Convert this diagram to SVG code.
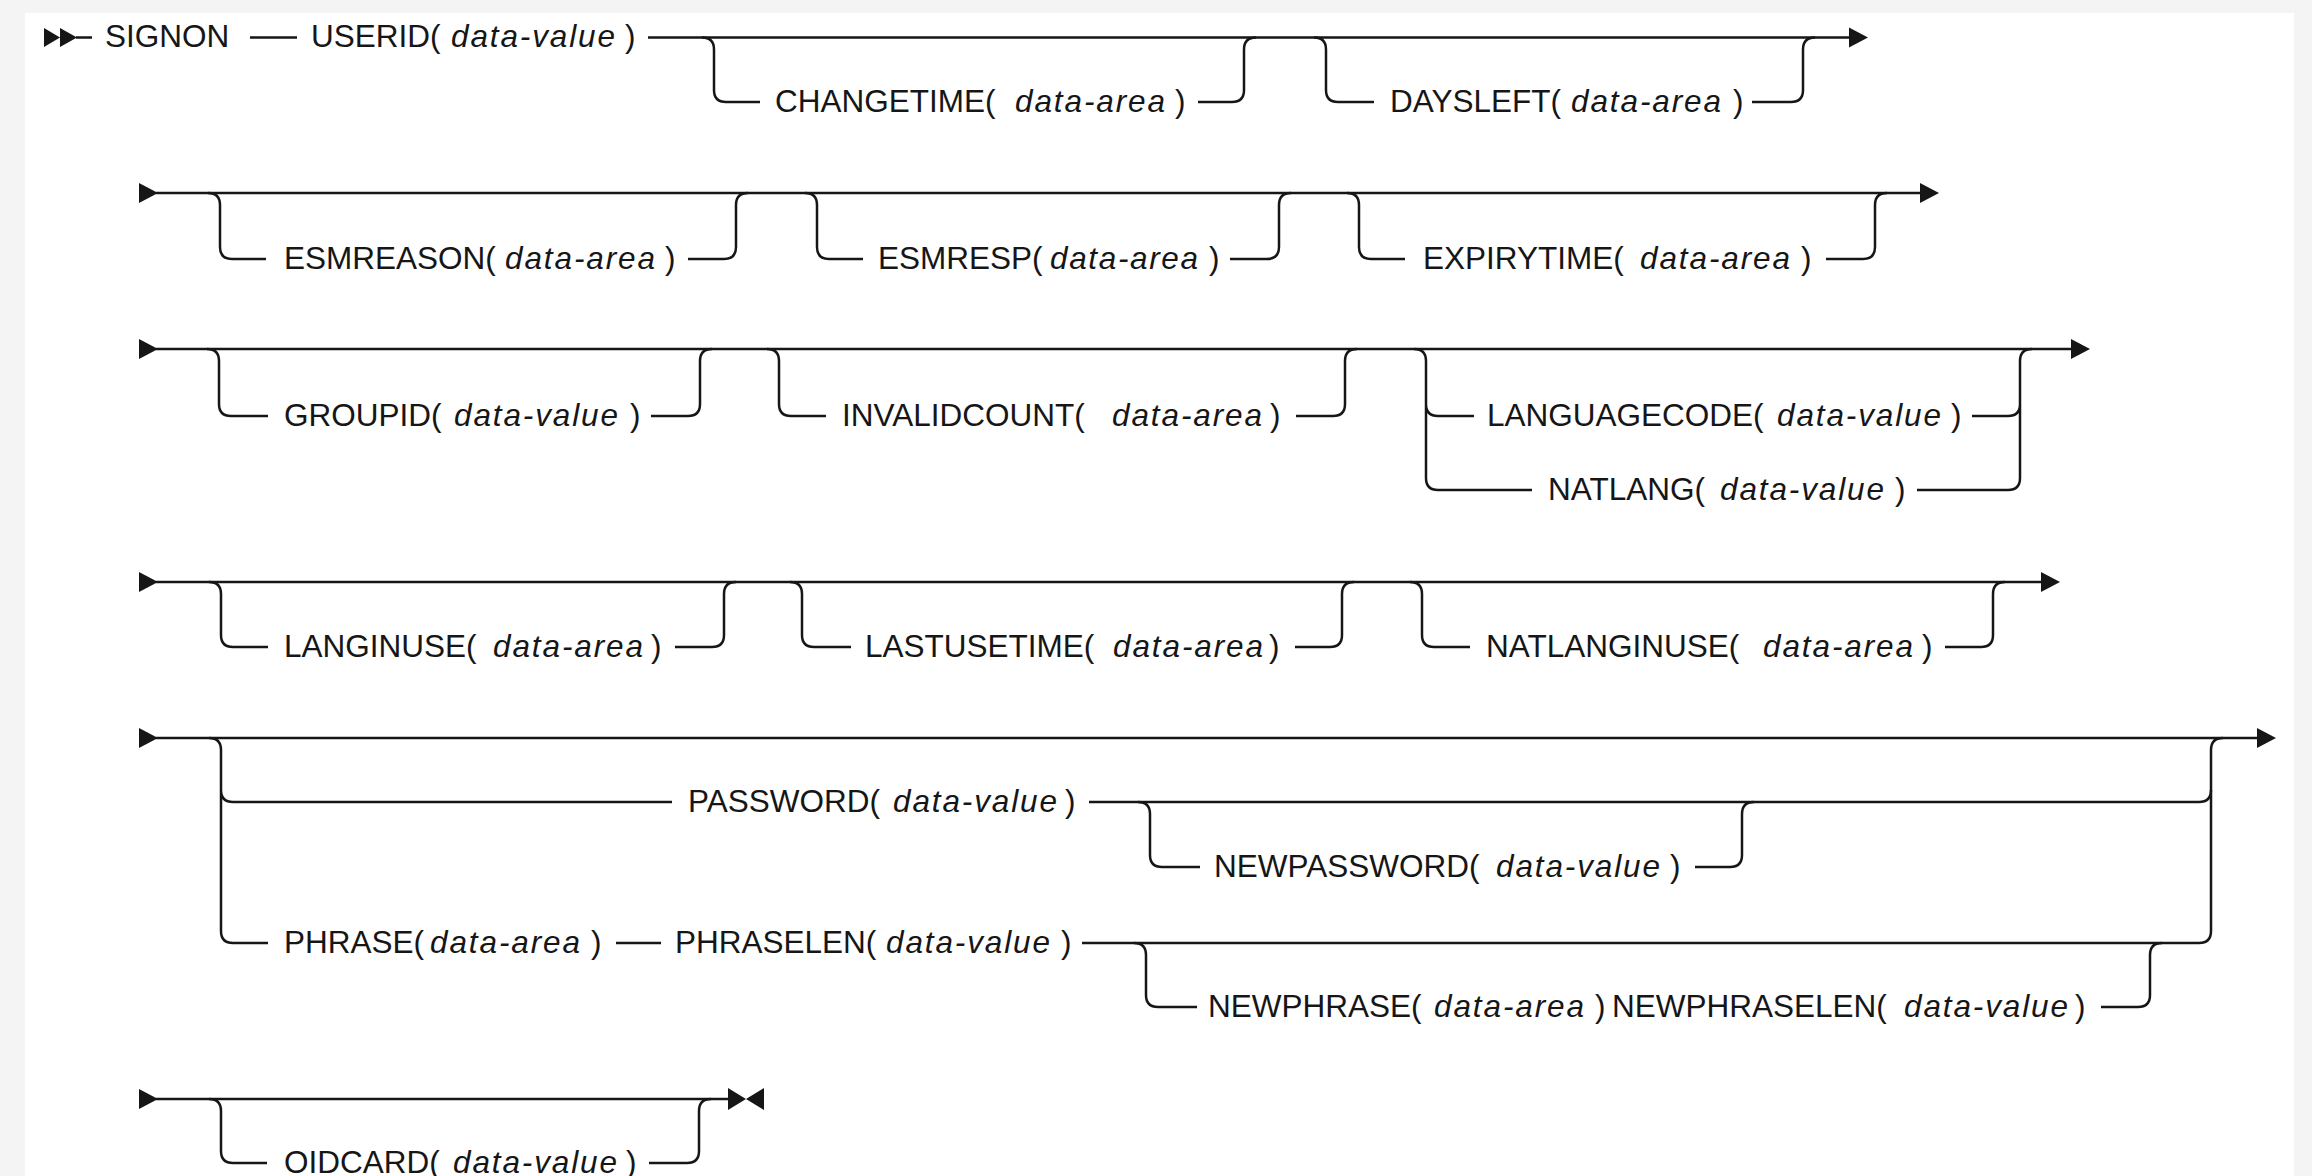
<svg xmlns="http://www.w3.org/2000/svg" width="2312" height="1176" viewBox="0 0 2312 1176">
  <style>
    .ln { fill: none; stroke: #161616; stroke-width: 2.5; }
    .head { fill: #161616; stroke: none; }
    text { font-family: "Liberation Sans", Arial, sans-serif; font-size: 31.5px; fill: #161616; }
    .v { font-style: italic; }
  </style>

  <!-- page and panel -->
  <rect x="0" y="0" width="2312" height="1176" fill="#f4f4f4"/>
  <rect x="25" y="13" width="2269" height="1163" fill="#ffffff"/>

  <!-- syntax lines -->
  <g id="connectors">
    <!-- row 1 -->
    <path class="ln" d="M76,37.5 H92 M250,37.5 H297 M648,37.5 H1852"/>
    <path class="ln" d="M702,37.5 Q714,37.5 714,49.5 V90 Q714,102 726,102 H760 M1198,102 H1232 Q1244,102 1244,90 V49.5 Q1244,37.5 1256,37.5"/>
    <path class="ln" d="M1314,37.5 Q1326,37.5 1326,49.5 V90 Q1326,102 1338,102 H1374 M1752,102 H1791 Q1803,102 1803,90 V49.5 Q1803,37.5 1815,37.5"/>
    <path class="head" d="M44,28 L60,37.5 L44,47 Z M60,28 L77,37.5 L60,47 Z"/>
    <path class="head" d="M1849,27.5 L1868,37.5 L1849,47.5 Z"/>

    <!-- row 2 -->
    <path class="ln" d="M156,193 H1923"/>
    <path class="ln" d="M208,193 Q220,193 220,205 V247 Q220,259 232,259 H266 M688,259 H724 Q736,259 736,247 V205 Q736,193 748,193"/>
    <path class="ln" d="M805,193 Q817,193 817,205 V247 Q817,259 829,259 H863 M1230,259 H1267 Q1279,259 1279,247 V205 Q1279,193 1291,193"/>
    <path class="ln" d="M1347,193 Q1359,193 1359,205 V247 Q1359,259 1371,259 H1405 M1826,259 H1863 Q1875,259 1875,247 V205 Q1875,193 1887,193"/>
    <path class="head" d="M139,183 L158,193 L139,203 Z"/>
    <path class="head" d="M1920,183 L1939,193 L1920,203 Z"/>

    <!-- row 3 -->
    <path class="ln" d="M156,349 H2072"/>
    <path class="ln" d="M207,349 Q219,349 219,361 V404 Q219,416 231,416 H268 M651,416 H688 Q700,416 700,404 V361 Q700,349 712,349"/>
    <path class="ln" d="M767,349 Q779,349 779,361 V404 Q779,416 791,416 H826 M1296,416 H1333 Q1345,416 1345,404 V361 Q1345,349 1357,349"/>
    <path class="ln" d="M1414,349 Q1426,349 1426,361 V478 Q1426,490 1438,490 H1532 M1426,404 Q1426,416 1438,416 H1474 M1972,416 H2008 Q2020,416 2020,404 M1917,490 H2008 Q2020,490 2020,478 V361 Q2020,349 2032,349"/>
    <path class="head" d="M139,339 L158,349 L139,359 Z"/>
    <path class="head" d="M2071,339 L2090,349 L2071,359 Z"/>

    <!-- row 4 -->
    <path class="ln" d="M156,582 H2043"/>
    <path class="ln" d="M209,582 Q221,582 221,594 V635 Q221,647 233,647 H268 M675,647 H712 Q724,647 724,635 V594 Q724,582 736,582"/>
    <path class="ln" d="M790,582 Q802,582 802,594 V635 Q802,647 814,647 H851 M1295,647 H1330 Q1342,647 1342,635 V594 Q1342,582 1354,582"/>
    <path class="ln" d="M1410,582 Q1422,582 1422,594 V635 Q1422,647 1434,647 H1470 M1945,647 H1981 Q1993,647 1993,635 V594 Q1993,582 2005,582"/>
    <path class="head" d="M139,572 L158,582 L139,592 Z"/>
    <path class="head" d="M2041,572 L2060,582 L2041,592 Z"/>

    <!-- row 5 -->
    <path class="ln" d="M156,738 H2261"/>
    <path class="ln" d="M209,738 Q221,738 221,750 V931 Q221,943 233,943 H268 M221,790 Q221,802 233,802 H672"/>
    <path class="ln" d="M1089,802 H2199 Q2211,802 2211,790"/>
    <path class="ln" d="M616,943 H661 M1082,943 H2199 Q2211,943 2211,931 V750 Q2211,738 2223,738"/>
    <path class="ln" d="M1138,802 Q1150,802 1150,814 V855 Q1150,867 1162,867 H1200 M1695,867 H1730 Q1742,867 1742,855 V814 Q1742,802 1754,802"/>
    <path class="ln" d="M1134,943 Q1146,943 1146,955 V995 Q1146,1007 1158,1007 H1197 M2101,1007 H2138 Q2150,1007 2150,995 V955 Q2150,943 2162,943"/>
    <path class="head" d="M139,728 L158,738 L139,748 Z"/>
    <path class="head" d="M2257,728 L2276,738 L2257,748 Z"/>

    <!-- row 6 -->
    <path class="ln" d="M156,1099 H730"/>
    <path class="ln" d="M209,1099 Q221,1099 221,1111 V1151 Q221,1163 233,1163 H267 M649,1163 H687 Q699,1163 699,1151 V1111 Q699,1099 711,1099"/>
    <path class="head" d="M139,1089 L158,1099 L139,1109 Z"/>
    <path class="head" d="M728,1088 L746,1099 L728,1110 Z M764,1088 L746,1099 L764,1110 Z"/>
  </g>

  <!-- keywords and parameters -->
  <g id="signon"><text x="105" y="47">SIGNON</text></g>
  <g id="userid"><text y="47"><tspan x="311">USERID(</tspan><tspan class="v" x="451" textLength="164">data-value</tspan><tspan x="625">)</tspan></text></g>
  <g id="changetime"><text y="111.5"><tspan x="775">CHANGETIME(</tspan><tspan class="v" x="1015" textLength="150">data-area</tspan><tspan x="1175">)</tspan></text></g>
  <g id="daysleft"><text y="111.5"><tspan x="1390">DAYSLEFT(</tspan><tspan class="v" x="1571" textLength="150">data-area</tspan><tspan x="1733">)</tspan></text></g>

  <g id="esmreason"><text y="268.5"><tspan x="284">ESMREASON(</tspan><tspan class="v" x="505" textLength="150">data-area</tspan><tspan x="665">)</tspan></text></g>
  <g id="esmresp"><text y="268.5"><tspan x="878">ESMRESP(</tspan><tspan class="v" x="1050" textLength="148">data-area</tspan><tspan x="1209">)</tspan></text></g>
  <g id="expirytime"><text y="268.5"><tspan x="1423">EXPIRYTIME(</tspan><tspan class="v" x="1640" textLength="150">data-area</tspan><tspan x="1801">)</tspan></text></g>

  <g id="groupid"><text y="425.5"><tspan x="284">GROUPID(</tspan><tspan class="v" x="454" textLength="164">data-value</tspan><tspan x="630">)</tspan></text></g>
  <g id="invalidcount"><text y="425.5"><tspan x="842">INVALIDCOUNT(</tspan><tspan class="v" x="1112" textLength="150">data-area</tspan><tspan x="1270">)</tspan></text></g>
  <g id="languagecode"><text y="425.5"><tspan x="1487">LANGUAGECODE(</tspan><tspan class="v" x="1777" textLength="164">data-value</tspan><tspan x="1951">)</tspan></text></g>
  <g id="natlang"><text y="499.5"><tspan x="1548">NATLANG(</tspan><tspan class="v" x="1720" textLength="164">data-value</tspan><tspan x="1895">)</tspan></text></g>

  <g id="langinuse"><text y="656.5"><tspan x="284">LANGINUSE(</tspan><tspan class="v" x="493" textLength="150">data-area</tspan><tspan x="651">)</tspan></text></g>
  <g id="lastusetime"><text y="656.5"><tspan x="865">LASTUSETIME(</tspan><tspan class="v" x="1113" textLength="150">data-area</tspan><tspan x="1269">)</tspan></text></g>
  <g id="natlanginuse"><text y="656.5"><tspan x="1486">NATLANGINUSE(</tspan><tspan class="v" x="1763" textLength="150">data-area</tspan><tspan x="1922">)</tspan></text></g>

  <g id="password"><text y="811.5"><tspan x="688">PASSWORD(</tspan><tspan class="v" x="893" textLength="164">data-value</tspan><tspan x="1065">)</tspan></text></g>
  <g id="newpassword"><text y="876.5"><tspan x="1214">NEWPASSWORD(</tspan><tspan class="v" x="1496" textLength="164">data-value</tspan><tspan x="1670">)</tspan></text></g>
  <g id="phrase"><text y="952.5"><tspan x="284">PHRASE(</tspan><tspan class="v" x="430" textLength="150">data-area</tspan><tspan x="591">)</tspan></text></g>
  <g id="phraselen"><text y="952.5"><tspan x="675">PHRASELEN(</tspan><tspan class="v" x="886" textLength="164">data-value</tspan><tspan x="1061">)</tspan></text></g>
  <g id="newphrase"><text y="1016.5"><tspan x="1208">NEWPHRASE(</tspan><tspan class="v" x="1434" textLength="150">data-area</tspan><tspan x="1595">)</tspan><tspan x="1612">NEWPHRASELEN(</tspan><tspan class="v" x="1904" textLength="164">data-value</tspan><tspan x="2075">)</tspan></text></g>

  <g id="oidcard"><text y="1172.5"><tspan x="284">OIDCARD(</tspan><tspan class="v" x="453" textLength="164">data-value</tspan><tspan x="626">)</tspan></text></g>
</svg>
